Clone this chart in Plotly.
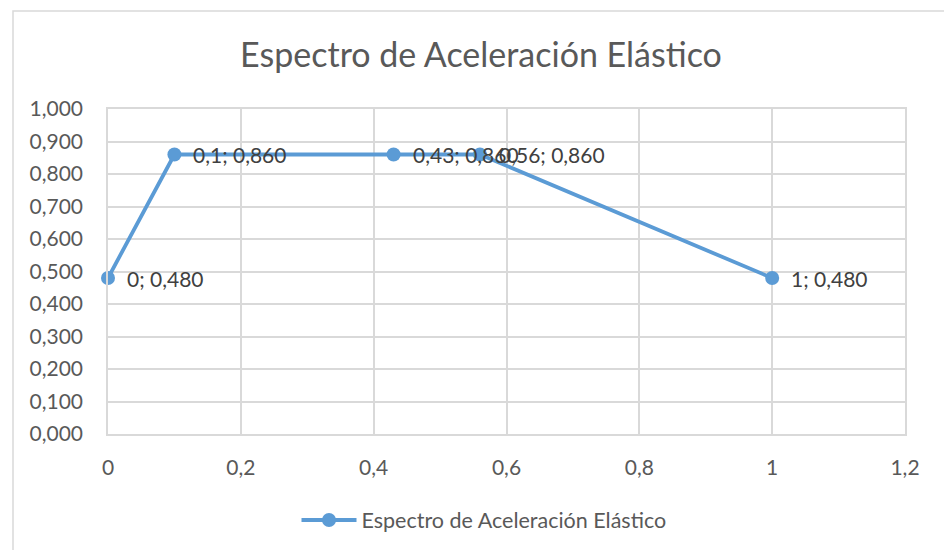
import plotly.graph_objects as go

# Elastic acceleration spectrum: period (s) vs. spectral acceleration (g)
periodos = [0, 0.1, 0.43, 0.56, 1]
aceleraciones = [0.480, 0.860, 0.860, 0.860, 0.480]
titulo = "Espectro de Aceleración Elástico"
serie = "Espectro de Aceleración Elástico"

x_ticks = [0, 0.2, 0.4, 0.6, 0.8, 1.0, 1.2]
y_ticks = [0.0, 0.1, 0.2, 0.3, 0.4, 0.5, 0.6, 0.7, 0.8, 0.9, 1.0]

AZUL = "#5B9BD5"
GRIS_TXT = "#595959"
GRID = "#D9D9D9"
FUENTE = "Lato, 'Open Sans', sans-serif"


def fmt_x(v):
    return ("%g" % v).replace(".", ",")


def fmt_y(v):
    return ("%.3f" % v).replace(".", ",")


fig = go.Figure()
fig.add_trace(go.Scatter(
    x=periodos, y=aceleraciones,
    mode="lines+markers",
    name=serie,
    line=dict(color=AZUL, width=3.8),
    marker=dict(color=AZUL, size=14),
    cliponaxis=False,
))

# data labels "x; y" to the right of each point
for xv, yv in zip(periodos, aceleraciones):
    fig.add_annotation(
        x=xv, y=yv, xref="x", yref="y",
        text=f"{fmt_x(xv)}; {fmt_y(yv)}",
        showarrow=False, xanchor="left", yanchor="middle",
        xshift=17, font=dict(family=FUENTE, size=21, color="#404040"),
    )

# outer chart frame
fig.add_shape(type="rect", xref="paper", yref="paper",
              x0=13 / 944, x1=1.05, y0=-0.05, y1=1 - 11 / 550,
              line=dict(color="#D9D9D9", width=1.5), layer="below")

fig.update_layout(
    width=944, height=550,
    margin=dict(l=0, r=0, t=0, b=0, autoexpand=False),
    paper_bgcolor="white", plot_bgcolor="white",
    separators=",.",
    font=dict(family=FUENTE, color=GRIS_TXT),
    title=dict(text=titulo, x=481 / 944, xanchor="center",
               y=1 - 55 / 550, yanchor="middle",
               font=dict(family=FUENTE, size=34, color=GRIS_TXT)),
    xaxis=dict(
        domain=[108 / 944, 905 / 944],
        range=[0, 1.2], tickvals=x_ticks, automargin=False,
        showgrid=True, gridcolor=GRID, gridwidth=1.5,
        showline=True, linecolor=GRID, linewidth=1.5, mirror=True,
        zeroline=False, ticks="", ticklabelstandoff=14,
        tickfont=dict(family=FUENTE, size=21, color=GRIS_TXT),
    ),
    yaxis=dict(
        domain=[1 - 434 / 550, 1 - 109 / 550],
        range=[0, 1.0], tickvals=y_ticks, tickformat=".3f", automargin=False,
        showgrid=True, gridcolor=GRID, gridwidth=1.5,
        showline=True, linecolor=GRID, linewidth=1.5, mirror=True,
        zeroline=False, ticks="", ticklabelstandoff=19,
        tickfont=dict(family=FUENTE, size=21, color=GRIS_TXT),
    ),
    showlegend=True,
    legend=dict(orientation="h", x=484 / 944, xanchor="center",
                y=1 - 520 / 550, yanchor="middle",
                font=dict(family=FUENTE, size=21.5, color=GRIS_TXT),
                itemwidth=55, bgcolor="rgba(0,0,0,0)"),
)

fig.write_html("out.html")
